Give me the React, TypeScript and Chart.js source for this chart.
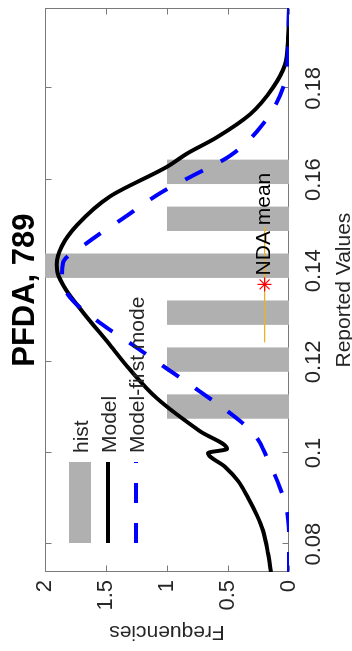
import React, { useEffect, useRef } from "react";
import { Chart, registerables } from "chart.js";

Chart.register(...registerables);

// ---- text ----
const titleText = "PFDA, 789";
const xLabel = "Reported Values";
const yLabel = "Frequencies";
const legendLabels = ["hist", "Model", "Model-first mode"];
const ndaLabel = "NDA mean";

// ---- axes ----
const xTicks = [0.08, 0.1, 0.12, 0.14, 0.16, 0.18];
const yTicks = [0, 0.5, 1, 1.5, 2];
const xMin = 0.0739;
const xMax = 0.1976;
const yMin = 0;
const yMax = 2;

// ---- histogram ----
const histValues = [0.1102, 0.1205, 0.1308, 0.1411, 0.1514, 0.1617];
const histCounts = [1, 1, 1, 2, 1, 1];

// ---- Model (black) ----
const modelValues = [
  0.0739, 0.078, 0.083, 0.0863, 0.0902, 0.0939, 0.097, 0.1, 0.1009, 0.1048,
  0.112, 0.1185, 0.1237, 0.1309, 0.1359, 0.1396, 0.1413, 0.1454, 0.15,
  0.1563, 0.1628, 0.1657, 0.1693, 0.1743, 0.1802, 0.1852, 0.1911, 0.1976,
];
const modelFreq = [
  0.148, 0.172, 0.213, 0.262, 0.336, 0.418, 0.525, 0.664, 0.508, 0.73, 1.082,
  1.31, 1.467, 1.689, 1.83, 1.898, 1.903, 1.862, 1.738, 1.467, 1.0, 0.836,
  0.59, 0.32, 0.131, 0.033, 0.008, 0.0,
];

// ---- Model-first mode (blue dashed) ----
const firstModeValues = [
  0.0739, 0.0809, 0.0874, 0.0924, 0.0989, 0.1033, 0.107, 0.1135, 0.1185,
  0.1237, 0.128, 0.1337, 0.138, 0.1417, 0.1461, 0.1515, 0.1574, 0.1607,
  0.1652, 0.1722, 0.1802, 0.1878, 0.1976,
];
const firstModeFreq = [
  0, 0, 0.016, 0.074, 0.18, 0.262, 0.4, 0.73, 1.0, 1.279, 1.52, 1.78, 1.86,
  1.852, 1.656, 1.36, 1.033, 0.8, 0.484, 0.213, 0.049, 0.008, 0,
];

// ---- NDA mean ----
const ndaMean = 0.137;
const ndaLow = 0.1243;
const ndaHigh = 0.1496;
const ndaLevel = 0.2;

const FONT = "'Liberation Sans', Arial, Helvetica, sans-serif";
const AXIS_COLOR = "#262626";

const W = 651;
const H = 352;

const toPoints = (xs: number[], ys: number[]) =>
  xs.map((x, i) => ({ x, y: ys[i] }));

const matlabPlugin = {
  id: "matlabPlugin",
  beforeDatasetsDraw(chart: any) {
    const { ctx, chartArea: a, scales } = chart;
    ctx.save();
    ctx.strokeStyle = "#7a7a7a";
    ctx.lineWidth = 1;
    const L = Math.round(a.left) + 0.5;
    const R = Math.round(a.right) - 0.5;
    const T = Math.round(a.top) + 0.5;
    const B = Math.round(a.bottom) - 0.5;
    ctx.strokeRect(L, T, R - L, B - T);
    ctx.beginPath();
    for (const v of xTicks) {
      const p = Math.round(scales.x.getPixelForValue(v)) + 0.5;
      ctx.moveTo(p, B);
      ctx.lineTo(p, B - 6);
      ctx.moveTo(p, T);
      ctx.lineTo(p, T + 6);
    }
    for (const v of yTicks) {
      const p = Math.round(scales.y.getPixelForValue(v)) + 0.5;
      ctx.moveTo(L, p);
      ctx.lineTo(L + 6, p);
      ctx.moveTo(R, p);
      ctx.lineTo(R - 6, p);
    }
    ctx.stroke();
    ctx.restore();
  },
  afterDatasetsDraw(chart: any) {
    const { ctx, chartArea: a, scales, data } = chart;
    ctx.save();
    // title
    ctx.fillStyle = "#000";
    ctx.font = `bold 31px ${FONT}`;
    ctx.textAlign = "center";
    ctx.textBaseline = "middle";
    ctx.fillText(titleText, (a.left + a.right) / 2, 25);

    // NDA mean label
    ctx.font = `21px ${FONT}`;
    ctx.textAlign = "left";
    ctx.fillStyle = "#000";
    ctx.fillText(
      ndaLabel,
      scales.x.getPixelForValue(ndaMean) + 9,
      scales.y.getPixelForValue(ndaLevel)
    );

    // legend
    const x0 = a.left + 29;
    const x1 = a.left + 110;
    const tx = a.left + 119;
    const rows = [35, 63, 91];
    for (let i = 0; i < 3; i++) {
      const ds = data.datasets[i];
      const cy = a.top + rows[i];
      if (i === 0) {
        ctx.fillStyle = ds.backgroundColor;
        ctx.fillRect(x0, cy - 11, x1 - x0, 22);
      } else {
        ctx.strokeStyle = ds.borderColor;
        ctx.lineWidth = ds.borderWidth;
        ctx.setLineDash(ds.borderDash || []);
        ctx.beginPath();
        ctx.moveTo(x0, cy);
        ctx.lineTo(x1, cy);
        ctx.stroke();
        ctx.setLineDash([]);
      }
      ctx.fillStyle = AXIS_COLOR;
      ctx.font = `21px ${FONT}`;
      ctx.textAlign = "left";
      ctx.textBaseline = "middle";
      ctx.fillText(legendLabels[i], tx, cy + 2);
    }
    ctx.restore();
  },
};

export default function App() {
  const canvasRef = useRef<HTMLCanvasElement | null>(null);

  useEffect(() => {
    const canvas = canvasRef.current;
    if (!canvas) return;
    Chart.defaults.font.family = FONT;
    const chart = new Chart(canvas, {
      type: "bar",
      data: {
        datasets: [
          {
            type: "bar",
            label: legendLabels[0],
            data: toPoints(histValues, histCounts),
            backgroundColor: "#b0b0b0",
            borderWidth: 0,
            categoryPercentage: 1,
            barPercentage: 0.52,
            order: 5,
          } as any,
          {
            type: "line",
            label: legendLabels[1],
            data: toPoints(modelValues, modelFreq),
            borderColor: "#000000",
            borderWidth: 4,
            pointRadius: 0,
            cubicInterpolationMode: "monotone",
            fill: false,
            order: 4,
          },
          {
            type: "line",
            label: legendLabels[2],
            data: toPoints(firstModeValues, firstModeFreq),
            borderColor: "#0000ff",
            borderWidth: 4,
            borderDash: [20, 20],
            pointRadius: 0,
            cubicInterpolationMode: "monotone",
            fill: false,
            order: 3,
          },
          {
            type: "line",
            label: "NDA range",
            data: [
              { x: ndaLow, y: ndaLevel },
              { x: ndaHigh, y: ndaLevel },
            ],
            borderColor: "#edb120",
            borderWidth: 1.3,
            pointRadius: 0,
            fill: false,
            order: 2,
          },
          {
            type: "line",
            label: ndaLabel,
            data: [{ x: ndaMean, y: ndaLevel }],
            showLine: false,
            pointStyle: "star",
            pointRadius: 7,
            pointBorderColor: "#ff0000",
            pointBackgroundColor: "#ff0000",
            pointBorderWidth: 1.2,
            order: 1,
          },
        ],
      },
      options: {
        animation: false,
        responsive: false,
        maintainAspectRatio: false,
        layout: { padding: { top: 45, right: 3, bottom: 0, left: 0 } },
        plugins: {
          legend: { display: false },
          title: { display: false },
          tooltip: { enabled: false },
        },
        scales: {
          x: {
            type: "linear",
            min: xMin,
            max: xMax,
            offset: false,
            grid: { display: false, drawTicks: false },
            border: { display: false },
            afterBuildTicks: (s: any) => {
              s.ticks = xTicks.map((v) => ({ value: v }));
            },
            afterFit: (s: any) => {
              s.height = 63;
            },
            ticks: {
              color: AXIS_COLOR,
              font: { size: 22 },
              padding: 12,
              maxRotation: 0,
              minRotation: 0,
              autoSkip: false,
              callback: (v: any) => String(v),
            },
            title: {
              display: true,
              text: xLabel,
              color: AXIS_COLOR,
              font: { size: 21, lineHeight: 0.7 },
              padding: 0,
            },
          },
          y: {
            type: "linear",
            min: yMin,
            max: yMax,
            grid: { display: false, drawTicks: false },
            border: { display: false },
            afterBuildTicks: (s: any) => {
              s.ticks = yTicks.map((v) => ({ value: v }));
            },
            afterFit: (s: any) => {
              s.width = 79;
            },
            ticks: {
              color: AXIS_COLOR,
              font: { size: 22 },
              padding: 8,
              autoSkip: false,
              callback: (v: any) => String(v),
            },
            title: {
              display: true,
              text: yLabel,
              color: AXIS_COLOR,
              font: { size: 21, lineHeight: 1.2 },
              padding: { top: 7, bottom: 0 },
            },
          },
        },
      } as any,
      plugins: [matlabPlugin],
    });
    return () => chart.destroy();
  }, []);

  return (
    <div
      style={{
        position: "absolute",
        left: 0,
        top: 0,
        width: H,
        height: W,
        overflow: "hidden",
        background: "#ffffff",
      }}
    >
      <canvas
        ref={canvasRef}
        width={W}
        height={H}
        style={{
          position: "absolute",
          left: 0,
          top: 0,
          width: W,
          height: H,
          transformOrigin: "0 0",
          transform: `translate(0px, ${W}px) rotate(-90deg)`,
        }}
      />
    </div>
  );
}
